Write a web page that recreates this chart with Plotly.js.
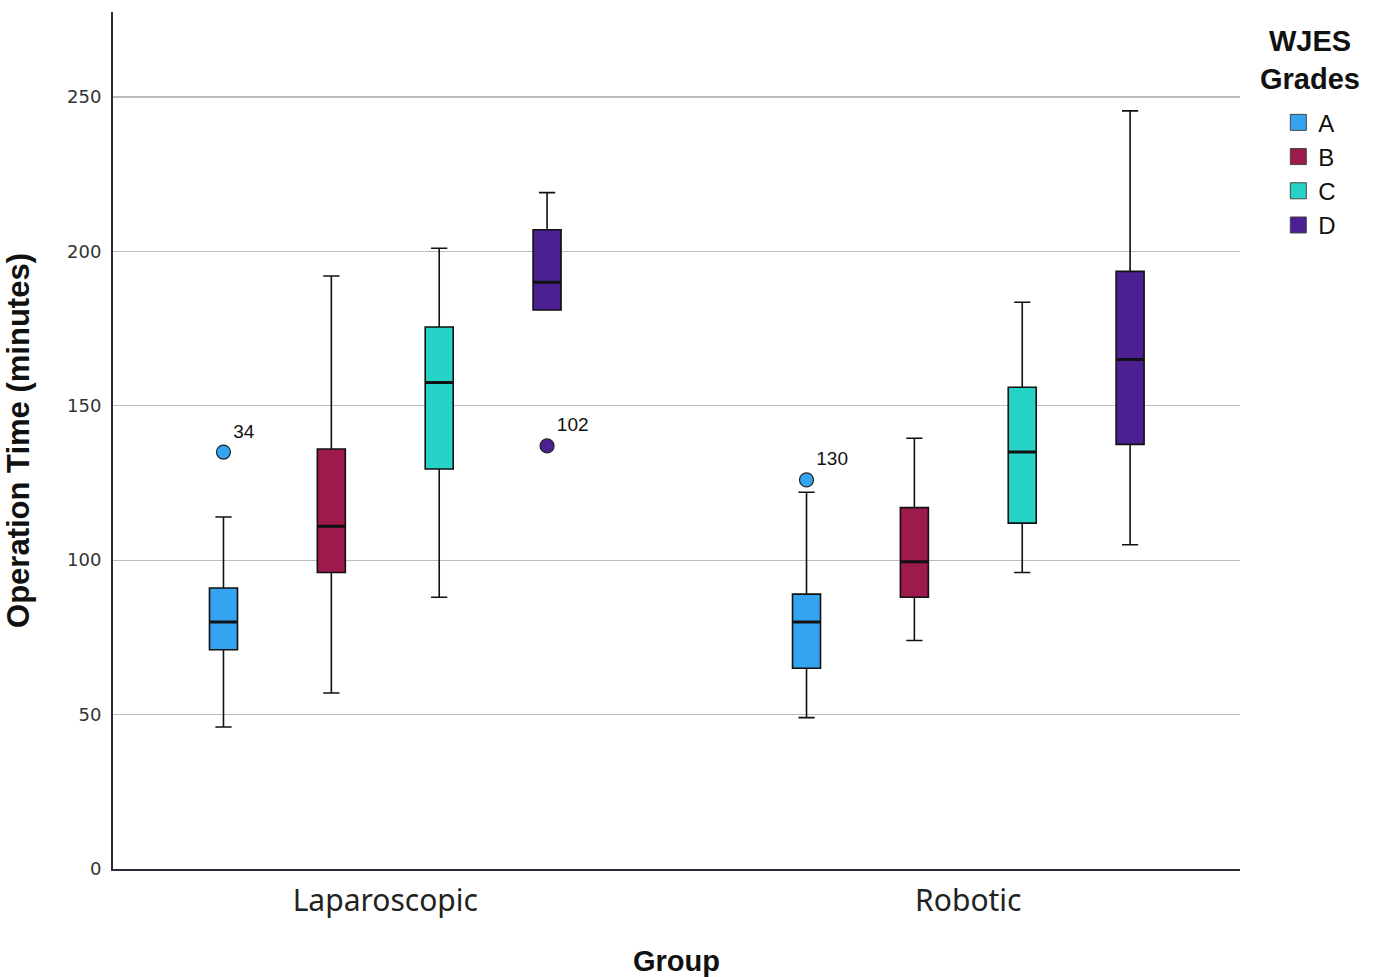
<!DOCTYPE html>
<html>
<head>
<meta charset="utf-8">
<script src="https://cdn.plot.ly/plotly-3.0.1.min.js"></script>
<style>html,body{margin:0;padding:0;background:#fff;}#chart{width:1379px;height:977px;}</style>
</head>
<body>
<div id="chart"></div>
<script>
// ---- data ----
const groups = ["Laparoscopic", "Robotic"];
const grades = ["A", "B", "C", "D"];
const gradeColors = ["#35a4f0", "#9e1a4c", "#25d4c6", "#4c1f92"];
// per grade: [Laparoscopic, Robotic]
const lowerFence = { A: [46, 49], B: [57, 74], C: [88, 96], D: [181, 105] };
const q1         = { A: [71, 65], B: [96, 88], C: [129.5, 112], D: [181, 137.5] };
const median     = { A: [80, 80], B: [111, 99.5], C: [157.5, 135], D: [190, 165] };
const q3         = { A: [91, 89], B: [136, 117], C: [175.5, 156], D: [207, 193.5] };
const upperFence = { A: [114, 122], B: [192, 139.5], C: [201, 183.5], D: [219, 245.5] };
// outliers: grade, group index, value, case label
const outlierGrade = ["A", "D", "A"];
const outlierGroup = [0, 0, 1];
const outlierValue = [135, 137, 126];
const outlierLabel = ["34", "102", "130"];
const yTicks = [0, 50, 100, 150, 200, 250];

// ---- layout helpers ----
const spacing = 0.185;
const boxWidth = 0.048;
function xPos(gi, k) { return gi + (k - (grades.length - 1) / 2) * spacing; }

const traces = [];
grades.forEach((g, k) => {
  const xs = groups.map((_, gi) => xPos(gi, k));
  traces.push({
    type: "box",
    name: g,
    x: xs,
    q1: q1[g], median: median[g], q3: q3[g],
    lowerfence: lowerFence[g], upperfence: upperFence[g],
    boxpoints: false,
    width: boxWidth,
    whiskerwidth: 0.58,
    fillcolor: gradeColors[k],
    line: { color: "#111111", width: 1.6 },
    showlegend: false,
    hoverinfo: "skip"
  });
  // thick median line overlay (box collapsed onto the median)
  traces.push({
    type: "box",
    name: g + " median",
    x: xs,
    q1: median[g], median: median[g], q3: median[g],
    lowerfence: median[g], upperfence: median[g],
    boxpoints: false,
    width: boxWidth * 0.95,
    whiskerwidth: 0,
    fillcolor: "rgba(0,0,0,0)",
    line: { color: "#111111", width: 3 },
    showlegend: false,
    hoverinfo: "skip"
  });
});
outlierValue.forEach((v, i) => {
  const k = grades.indexOf(outlierGrade[i]);
  traces.push({
    type: "scatter",
    mode: "markers+text",
    x: [xPos(outlierGroup[i], k)],
    y: [v],
    text: [outlierLabel[i]],
    textposition: "top right",
    textfont: { family: "Liberation Sans, Arial, sans-serif", size: 19, color: "#111" },
    marker: { size: 14, color: gradeColors[k], line: { color: "#222", width: 1.2 } },
    showlegend: false,
    hoverinfo: "skip"
  });
});
// legend entries
grades.forEach((g, k) => {
  traces.push({
    type: "scatter",
    mode: "markers",
    name: g,
    x: [null], y: [null],
    marker: { symbol: "square", size: 22, color: gradeColors[k], line: { color: "#444", width: 1 } },
    showlegend: true,
    hoverinfo: "skip"
  });
});

const layout = {
  width: 1379, height: 977,
  margin: { l: 113, r: 139, t: 12, b: 108 },
  paper_bgcolor: "#ffffff",
  plot_bgcolor: "#ffffff",
  showlegend: true,
  xaxis: {
    range: [-0.467, 1.466],
    tickvals: groups.map((_, i) => i),
    ticktext: groups,
    showgrid: false,
    zeroline: false,
    showline: true,
    linecolor: "#2a2a3a",
    linewidth: 2,
    ticks: "",
    ticklabelstandoff: 4,
    tickfont: { family: "Noto Sans, DejaVu Sans, sans-serif", size: 30, color: "#222" },
    title: { text: "<b>Group</b>", font: { family: "Liberation Sans, Arial, sans-serif", size: 29, color: "#111" }, standoff: 38 }
  },
  yaxis: {
    range: [0, 277.5],
    tickvals: yTicks,
    showgrid: true,
    gridcolor: "#bdbdbd",
    gridwidth: 1.2,
    zeroline: false,
    showline: true,
    linecolor: "#2a2a3a",
    linewidth: 2,
    ticks: "",
    ticklabelstandoff: 6,
    tickfont: { family: "DejaVu Sans, sans-serif", size: 18, color: "#333" },
    title: { text: "<b>Operation Time (minutes)</b>", font: { family: "Liberation Sans, Arial, sans-serif", size: 31, color: "#111" }, standoff: 28 }
  },
  legend: {
    x: 1.034, y: 0.897, xanchor: "left", yanchor: "top",
    font: { family: "Liberation Sans, Arial, sans-serif", size: 24, color: "#111" },
    itemsizing: "trace",
    tracegroupgap: 0,
    bgcolor: "rgba(0,0,0,0)"
  },
  annotations: [{
    xref: "paper", yref: "paper",
    x: 1.062, y: 0.944, xanchor: "center", yanchor: "middle",
    text: "<b>WJES<br>Grades</b>",
    showarrow: false,
    align: "center",
    font: { family: "Liberation Sans, Arial, sans-serif", size: 29, color: "#111" }
  }]
};

Plotly.newPlot("chart", traces, layout, { displayModeBar: false, staticPlot: true });
</script>
</body>
</html>
